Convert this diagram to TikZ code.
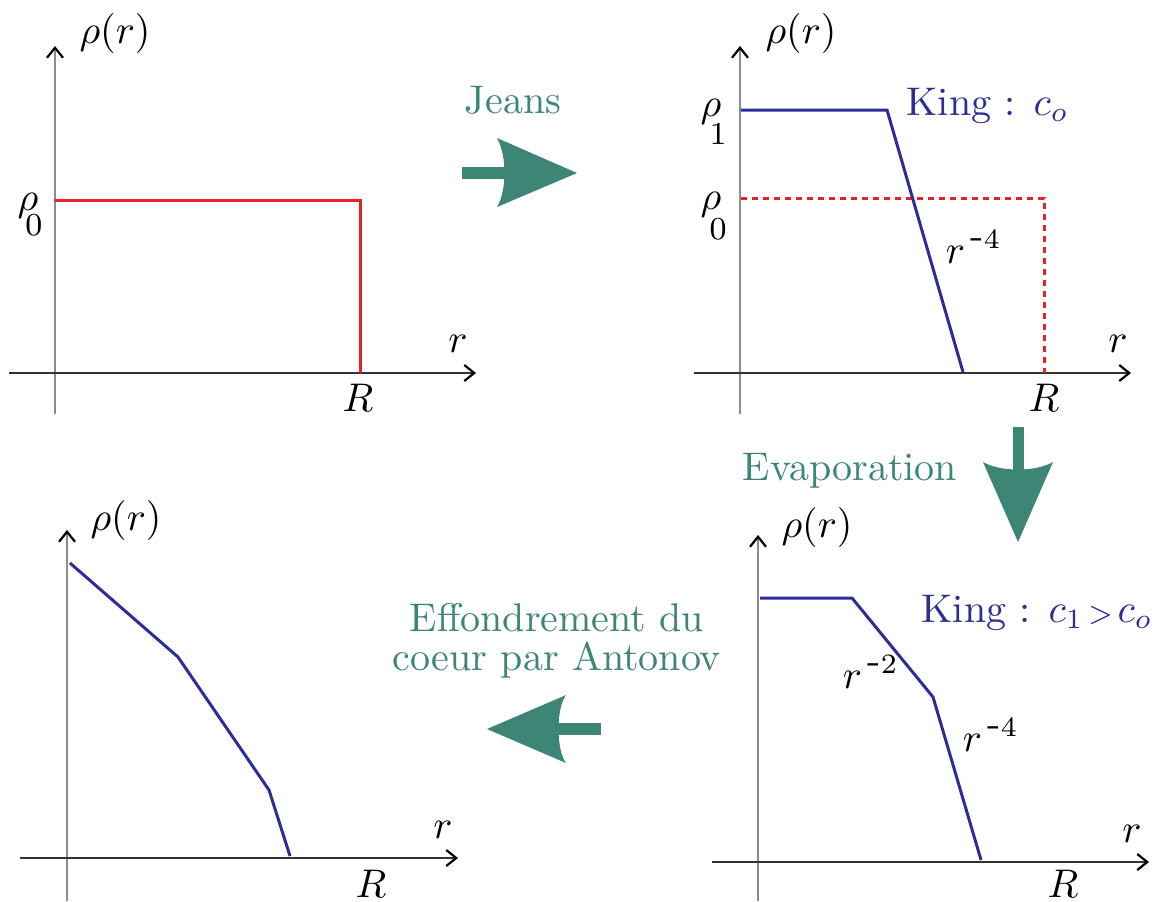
\RequirePackage{fix-cm}
\documentclass[tikz,border=0pt]{standalone}
\usetikzlibrary{arrows.meta}
\definecolor{tealg}{HTML}{3D8575}
\definecolor{kblue}{HTML}{2B2E96}
\definecolor{kred}{HTML}{E8202A}
\begin{document}
\begin{tikzpicture}[x=0.25pt,y=-0.25pt,
  lbl/.style={inner sep=0pt, font=\fontsize{10}{12}\selectfont},
  sub/.style={inner sep=0pt, font=\fontsize{8}{10}\selectfont},
  glbl/.style={inner sep=0pt, text=tealg, font=\fontsize{10}{9.75}\selectfont},
  vaxis/.style={draw=black!45, line width=0.4pt, -{Straight Barb[length=2.5pt,width=4pt,line width=0.55pt,black]}},
  haxis/.style={draw=black!80, line width=0.4pt, -{Straight Barb[length=2.5pt,width=4pt,line width=0.55pt,black]}},
  redcurve/.style={draw=kred, line width=0.75pt},
  reddash/.style={draw=kred, line width=0.75pt, dash pattern=on 1.5pt off 1.25pt},
  bluecurve/.style={draw=kblue, line width=0.75pt, line join=miter},
  fatarrow/.style={fill=tealg, draw=none}]
\useasboundingbox (0,0) rectangle (1152,901);

% ---------- Panel 1 ----------
\coordinate (v1b) at (55,414); \coordinate (v1t) at (55,46);
\coordinate (h1l) at (9,373);  \coordinate (h1r) at (476,373);
\draw[vaxis] (v1b) -- (v1t);
\draw[haxis] (h1l) -- (h1r);
\coordinate (p1a) at (55,200); \coordinate (p1b) at (360,200); \coordinate (p1c) at (360,373);
\draw[redcurve] (p1a) -- (p1b) -- (p1c);
\node[lbl, anchor=base] (rho1) at (115,43) {$\rho(r)$};
\node[lbl, anchor=base] (rho01) at (28,210) {$\rho$};
\node[sub] (rho01s) at (34,225) {$0$};
\node[lbl, anchor=base] (r1) at (458,352) {$r$};
\node[lbl, anchor=base] (R1) at (358,411) {$R$};

% ---------- Panel 2 ----------
\coordinate (v2b) at (740,414); \coordinate (v2t) at (740,46);
\coordinate (h2l) at (694,373); \coordinate (h2r) at (1131,373);
\draw[vaxis] (v2b) -- (v2t);
\draw[haxis] (h2l) -- (h2r);
\coordinate (p2a) at (741,198); \coordinate (p2b) at (1044,198); \coordinate (p2c) at (1044,373);
\draw[reddash] (p2a) -- (p2b) -- (p2c);
\coordinate (b2a) at (741,110); \coordinate (b2b) at (887,110); \coordinate (b2c) at (963,372);
\draw[bluecurve] (b2a) -- (b2b) -- (b2c);
\node[lbl, anchor=base] (rho2) at (801,43) {$\rho(r)$};
\node[lbl, anchor=base] (rho12) at (711,116) {$\rho$};
\node[sub] (rho12s) at (718,134) {$1$};
\node[lbl, anchor=base] (rho02) at (711,209) {$\rho$};
\node[sub] (rho02s) at (718,229) {$0$};
\node[lbl, anchor=base west, text=kblue] (king1) at (906,115) {King : $c_{o}$};
\node[lbl, anchor=base west] (r4a) at (945,263) {$r^{\,\textrm{-}4}$};
\node[lbl, anchor=base] (r2) at (1118,352) {$r$};
\node[lbl, anchor=base] (R2) at (1044,411) {$R$};

% ---------- Panel 3 (bottom right) ----------
\coordinate (v3b) at (758,901); \coordinate (v3t) at (758,535);
\coordinate (h3l) at (712,862); \coordinate (h3r) at (1149,862);
\draw[vaxis] (v3b) -- (v3t);
\draw[haxis] (h3l) -- (h3r);
\coordinate (b3a) at (760,598); \coordinate (b3b) at (852,598);
\coordinate (b3c) at (933,697); \coordinate (b3d) at (981,860);
\draw[bluecurve] (b3a) -- (b3b) -- (b3c) -- (b3d);
\node[lbl, anchor=base] (rho3) at (817,537) {$\rho(r)$};
\node[lbl, anchor=base west, text=kblue] (king2) at (921,622) {King : $c_{1}\mkern2mu{\scriptstyle >}\mkern2mu c_{o}$};
\node[lbl, anchor=base west] (r2b) at (842,688) {$r^{\,\textrm{-}2}$};
\node[lbl, anchor=base west] (r4b) at (962,751) {$r^{\,\textrm{-}4}$};
\node[lbl, anchor=base] (r3) at (1132,842) {$r$};
\node[lbl, anchor=base] (R3) at (1063,897) {$R$};

% ---------- Panel 4 (bottom left) ----------
\coordinate (v4b) at (67,901); \coordinate (v4t) at (67,530);
\coordinate (h4l) at (20,858); \coordinate (h4r) at (458,858);
\draw[vaxis] (v4b) -- (v4t);
\draw[haxis] (h4l) -- (h4r);
\coordinate (b4a) at (70,563); \coordinate (b4b) at (178,657);
\coordinate (b4c) at (269,790); \coordinate (b4d) at (290,856);
\draw[bluecurve] (b4a) -- (b4b) -- (b4c) -- (b4d);
\node[lbl, anchor=base] (rho4) at (126,530) {$\rho(r)$};
\node[lbl, anchor=base] (r4) at (443,838) {$r$};
\node[lbl, anchor=base] (R4) at (371,897) {$R$};

% ---------- Process arrows ----------
\node[glbl, anchor=base] (jeans) at (513,113) {Jeans};
\fill[fatarrow] (462,167) rectangle (512,179);
\fill[fatarrow] (497,138) -- (577,173) -- (497,207) .. controls (507,190) and (507,156) .. (497,138) -- cycle;

\node[glbl, anchor=base] (evap) at (850,480) {Evaporation};
\fill[fatarrow] (1013,427) rectangle (1024,476);
\fill[fatarrow] (983,462) -- (1018,542) -- (1053,462) .. controls (1036,472) and (1000,472) .. (983,462) -- cycle;

\node[glbl, align=center] (antonov) at (557,641) {Effondrement du\\coeur par Antonov};
\fill[fatarrow] (548,723) rectangle (601,735);
\fill[fatarrow] (566,695) -- (487,729) -- (566,763) .. controls (556,750) and (556,708) .. (566,695) -- cycle;
\end{tikzpicture}
\end{document}
